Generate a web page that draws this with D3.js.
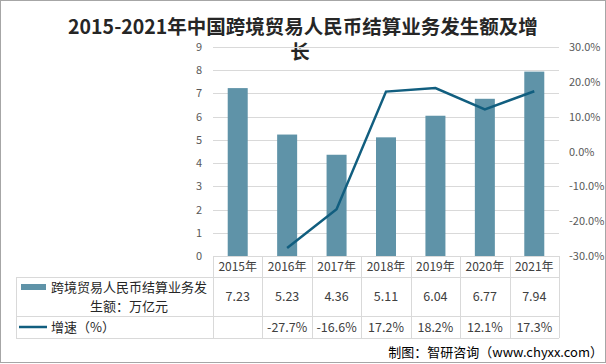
<!DOCTYPE html>
<html>
<head>
<meta charset="utf-8">
<script src="https://cdn.jsdelivr.net/npm/d3@7"></script>
<style>
  body { margin: 0; background: #fff; }
  svg { display: block; font-family: "Noto Sans CJK SC", "Noto Sans", sans-serif; }
</style>
</head>
<body>
<div id="chart"></div>
<script>
	var years = ["2015年","2016年","2017年","2018年","2019年","2020年","2021年"];
	var amount = [7.23, 5.23, 4.36, 5.11, 6.04, 6.77, 7.94];
	var growth = [null, -27.7, -16.6, 17.2, 18.2, 12.1, 17.3];
	var leftTicks = [0,1,2,3,4,5,6,7,8,9];
	var rightTicks = [-30,-20,-10,0,10,20,30];
	var seriesNames = ["跨境贸易人民币结算业务发", "生额：万亿元", "增速（%）"];

	var width = 606, height = 364;
	var plotLeft = 213, plotRight = 559, plotTop = 47, plotBottom = 256;

	var svg = d3.select('#chart').append('svg')
		.attr('width', width)
		.attr('height', height);

	// outer frame
	svg.append("rect")
		.attr("x", 0.5).attr("y", 0.5)
		.attr("width", width - 1).attr("height", height - 2)
		.attr("fill", "none").attr("stroke", "#a6a6a6");

	// title
	var title = svg.append("text")
		.attr("text-anchor", "middle")
		.attr("font-size", 19.5)
		.attr("font-weight", "bold")
		.attr("fill", "#262626");
	title.append("tspan").attr("x", 303).attr("y", 34).text("2015-2021年中国跨境贸易人民币结算业务发生额及增");
	title.append("tspan").attr("x", 300).attr("y", 59).text("长");

	var x = d3.scaleBand().domain(years).range([plotLeft, plotRight]).padding(0);
	var yL = d3.scaleLinear().domain([0, 9]).range([plotBottom, plotTop]);
	var yR = d3.scaleLinear().domain([-30, 30]).range([plotBottom, plotTop]);

	// gridlines
	svg.selectAll(".grid")
		.data(leftTicks)
		.enter()
			.append("line")
			.attr("x1", plotLeft).attr("x2", plotRight)
			.attr("y1", function(d){ return Math.round(yL(d)) + 0.5; })
			.attr("y2", function(d){ return Math.round(yL(d)) + 0.5; })
			.attr("stroke", "#d9d9d9");

	// left axis labels
	svg.selectAll(".lt")
		.data(leftTicks)
		.enter()
			.append("text")
			.attr("x", 202)
			.attr("y", function(d){ return yL(d) + 4; })
			.attr("text-anchor", "end")
			.attr("font-size", 11)
			.attr("fill", "#595959")
			.text(function(d){ return d; });

	// right axis labels
	svg.selectAll(".rt")
		.data(rightTicks)
		.enter()
			.append("text")
			.attr("x", 569)
			.attr("y", function(d){ return yR(d) + 4; })
			.attr("font-size", 11)
			.attr("fill", "#595959")
			.text(function(d){ return d.toFixed(1) + "%"; });

	// bars
	var barW = 20;
	svg.selectAll(".bar")
		.data(amount)
		.enter()
			.append("rect")
			.attr("x", function(d, i){ return x(years[i]) + x.bandwidth() / 2 - barW / 2; })
			.attr("y", function(d){ return yL(d); })
			.attr("width", barW)
			.attr("height", function(d){ return plotBottom - yL(d); })
			.attr("fill", "#5f93a8");

	// growth line
	var line = d3.line()
		.defined(function(d){ return d != null; })
		.x(function(d, i){ return x(years[i]) + x.bandwidth() / 2; })
		.y(function(d){ return yR(d); });

	svg.append("path")
		.datum(growth)
		.attr("d", line)
		.attr("fill", "none")
		.attr("stroke", "#115e7f")
		.attr("stroke-width", 2.5);

	// data table
	var r0 = plotBottom, r1 = 277, r2 = 316, r3 = 338, tLeft = 16;
	var g = svg.append("g").attr("stroke", "#d9d9d9").attr("fill", "none");
	g.append("line").attr("x1", plotLeft).attr("x2", plotRight).attr("y1", r0 + 0.5).attr("y2", r0 + 0.5);
	[r1, r2, r3].forEach(function(r){
		g.append("line").attr("x1", tLeft).attr("x2", plotRight).attr("y1", r + 0.5).attr("y2", r + 0.5);
	});
	g.append("line").attr("x1", tLeft + 0.5).attr("x2", tLeft + 0.5).attr("y1", r1).attr("y2", r3);
	years.concat(["end"]).forEach(function(d, i){
		var xx = Math.round(plotLeft + i * x.step()) + 0.5;
		g.append("line").attr("x1", xx).attr("x2", xx).attr("y1", r0).attr("y2", r3);
	});

	// header
	svg.selectAll(".yr")
		.data(years)
		.enter()
			.append("text")
			.attr("x", function(d){ return x(d) + x.bandwidth() / 2; })
			.attr("y", 271)
			.attr("text-anchor", "middle")
			.attr("font-size", 12)
			.attr("fill", "#404040")
			.text(function(d){ return d; });

	// values
	svg.selectAll(".val")
		.data(amount)
		.enter()
			.append("text")
			.attr("x", function(d, i){ return x(years[i]) + x.bandwidth() / 2; })
			.attr("y", 301)
			.attr("text-anchor", "middle")
			.attr("font-size", 12.5)
			.attr("fill", "#404040")
			.text(function(d){ return d.toFixed(2); });

	svg.selectAll(".gr")
		.data(growth)
		.enter()
			.append("text")
			.attr("x", function(d, i){ return x(years[i]) + x.bandwidth() / 2; })
			.attr("y", 332)
			.attr("text-anchor", "middle")
			.attr("font-size", 12.5)
			.attr("fill", "#404040")
			.text(function(d){ return d == null ? "" : d.toFixed(1) + "%"; });

	// legend in table
	svg.append("rect").attr("x", 21).attr("y", 284).attr("width", 25).attr("height", 6).attr("fill", "#5f93a8");
	svg.append("text").attr("x", 129).attr("y", 292).attr("text-anchor", "middle")
		.attr("font-size", 13).attr("fill", "#262626").text(seriesNames[0]);
	svg.append("text").attr("x", 129).attr("y", 311).attr("text-anchor", "middle")
		.attr("font-size", 13).attr("fill", "#262626").text(seriesNames[1]);
	svg.append("line").attr("x1", 19).attr("x2", 47).attr("y1", 327).attr("y2", 327)
		.attr("stroke", "#115e7f").attr("stroke-width", 2.5);
	svg.append("text").attr("x", 51).attr("y", 332)
		.attr("font-size", 13).attr("fill", "#262626").text(seriesNames[2]);

	// source
	svg.append("text")
		.attr("x", 603).attr("y", 357)
		.attr("text-anchor", "end")
		.attr("font-size", 13)
		.attr("fill", "#000")
		.text("制图：智研咨询（www.chyxx.com）");
</script>
</body>
</html>
